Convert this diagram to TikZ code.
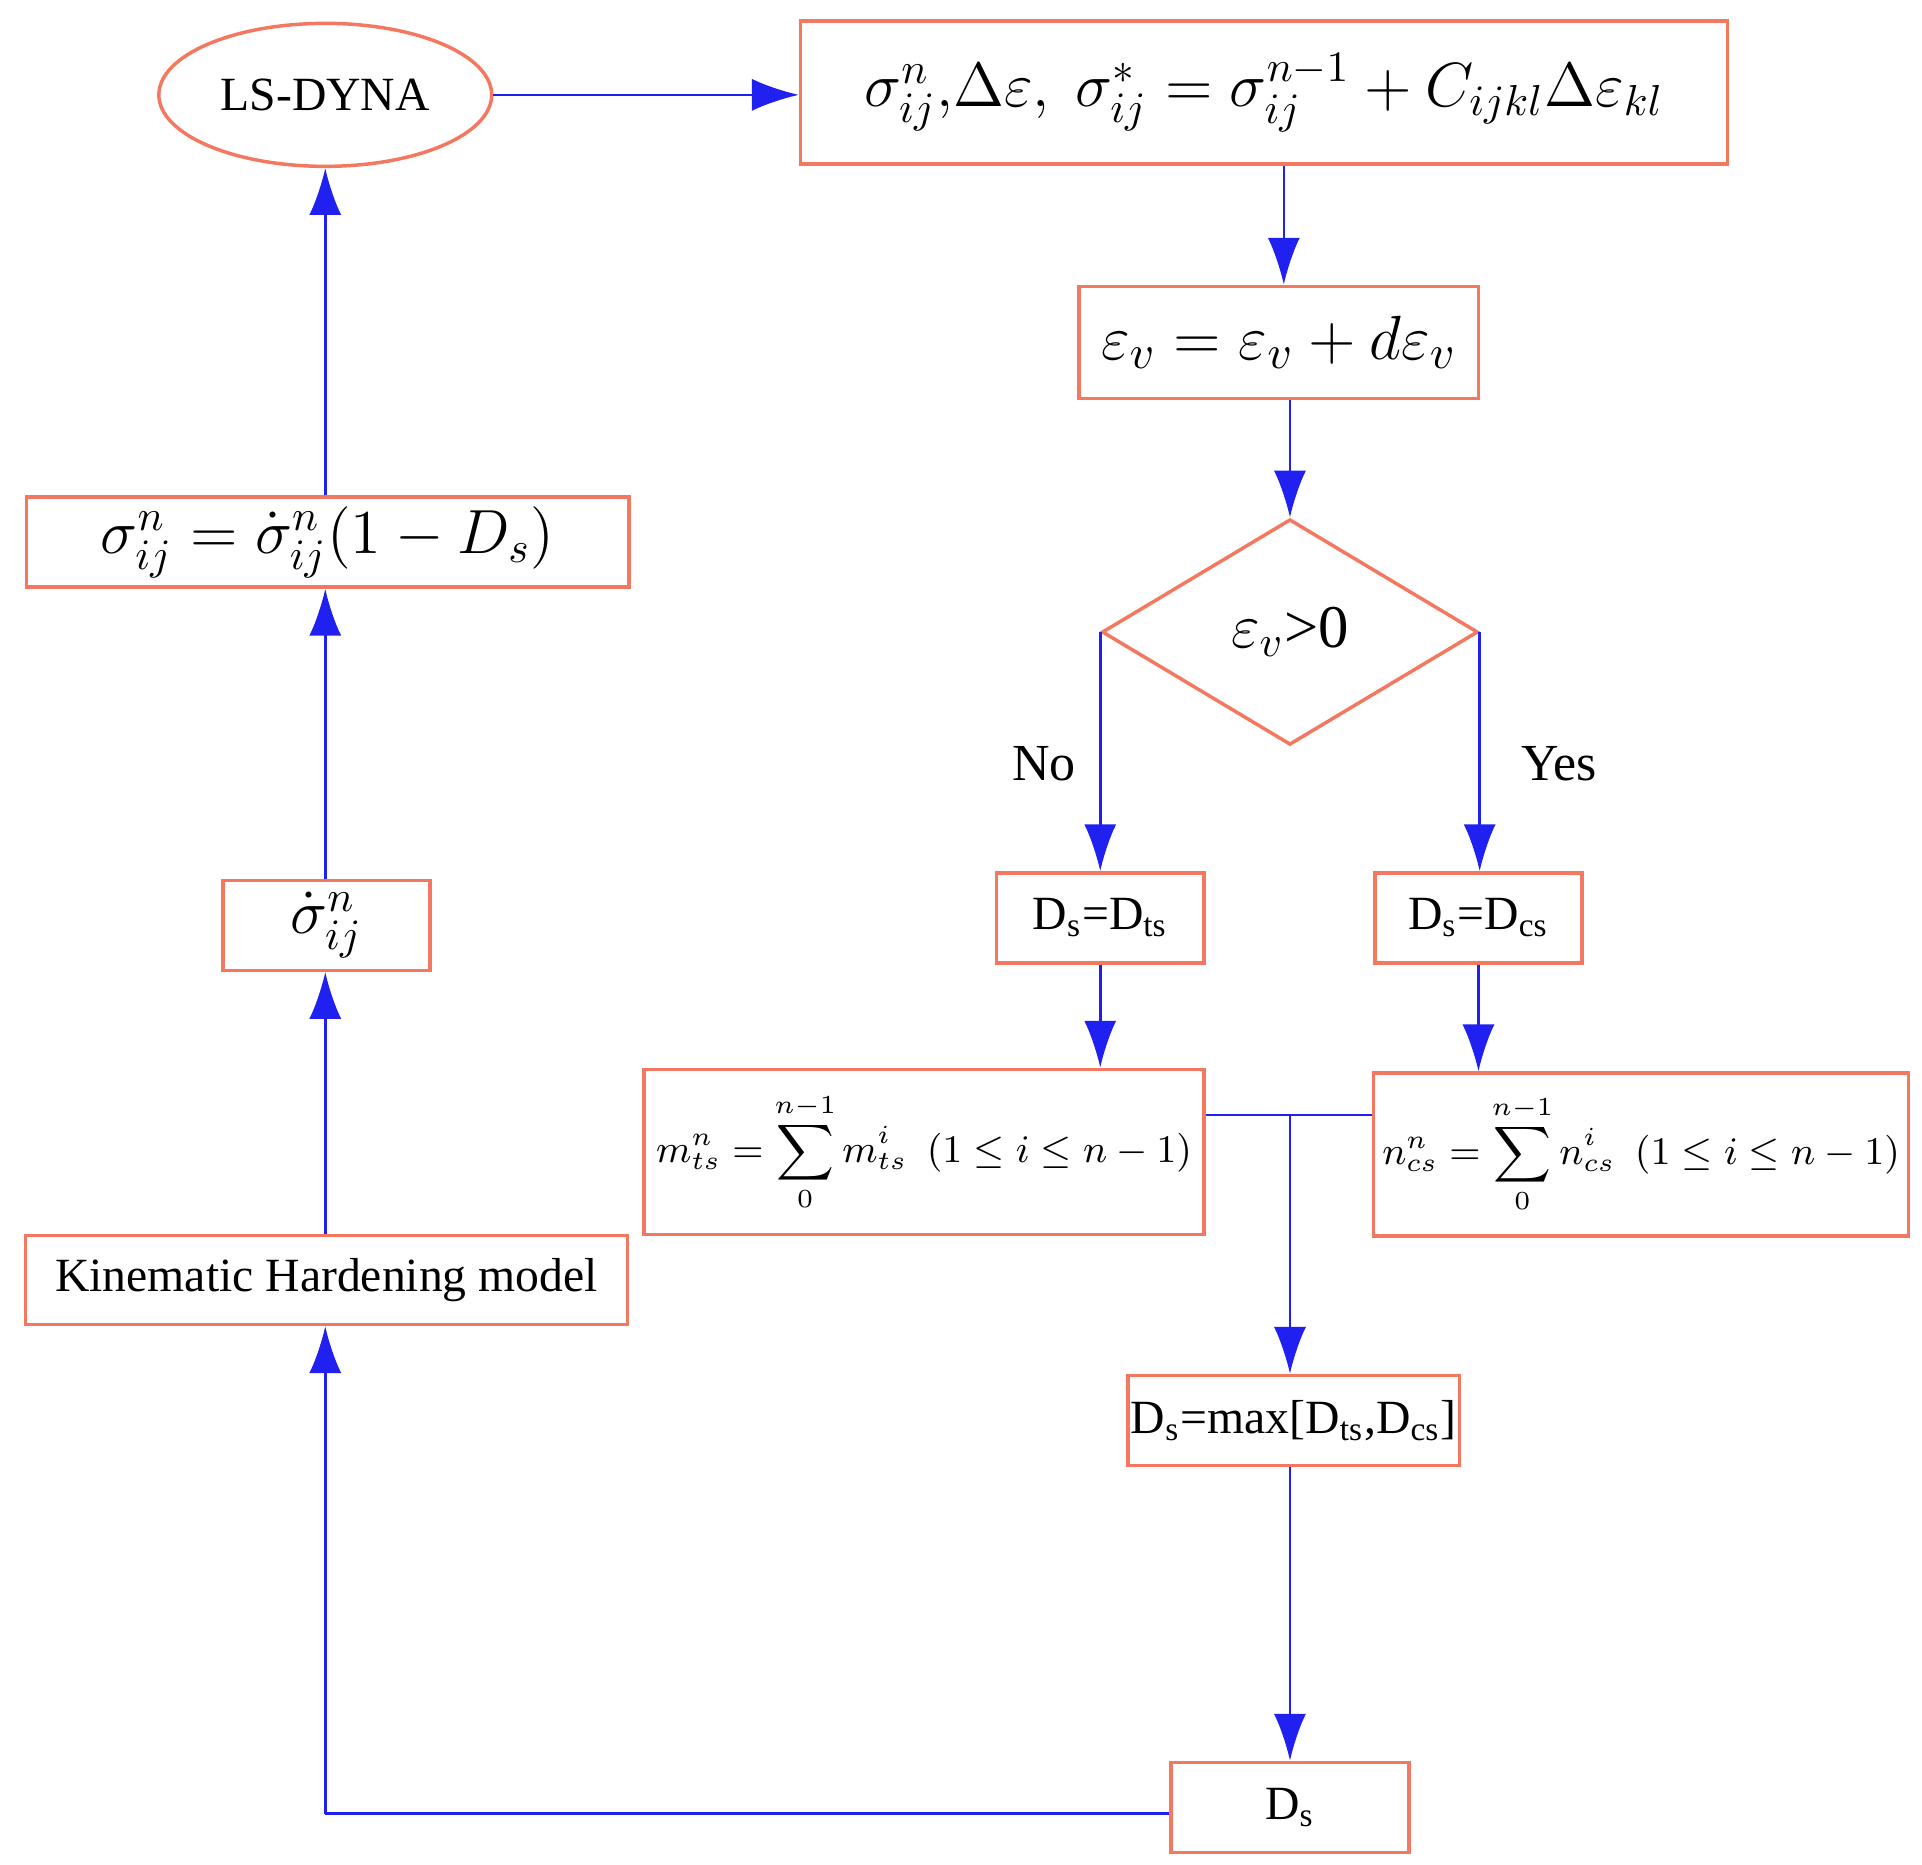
\documentclass[tikz,border=0pt]{standalone}
\usepackage{amsmath}
\usepackage{fontspec}
\setmainfont{Liberation Serif}
\usetikzlibrary{arrows.meta,shapes.geometric}
\definecolor{boxred}{HTML}{F4785F}
\definecolor{flowblue}{HTML}{2020F0}
\begin{document}
\begin{tikzpicture}[x=0.01cm,y=-0.01cm,
  box/.style={draw=boxred,thick,inner sep=0pt,font=\fontsize{11}{13}\selectfont},
  flow/.style={draw=flowblue,semithick,-{Latex[length=0.38cm,width=0.26cm]}},
  line/.style={draw=flowblue,semithick}]
  \useasboundingbox (0,0) rectangle (1560,1513);
  % right column
  \node [box,ellipse,minimum width=2.7cm,minimum height=1.16cm] (dyna) at (264,77) {LS-DYNA};
  \node [box,minimum width=7.52cm,minimum height=1.16cm,font=\fontsize{14}{16}\selectfont] (stress) at (1026,75)
    {$\sigma_{ij}^{n},\!\Delta\varepsilon,\ \sigma_{ij}^{*}=\sigma_{ij}^{n-1}+C_{ijkl}\Delta\varepsilon_{kl}$};
  \node [box,minimum width=3.24cm,minimum height=0.91cm,font=\fontsize{15}{17}\selectfont] (vol) at (1038,278)
    {$\varepsilon_{v}=\varepsilon_{v}+d\varepsilon_{v}$};
  \node [box,diamond,aspect=1.67,minimum width=3.05cm,minimum height=1.83cm,font=\fontsize{14}{16}\selectfont] (test) at (1047,513)
    {$\varepsilon_{v}$>0};
  \node [box,minimum width=1.68cm,minimum height=0.73cm] (dts) at (893,745) {D\textsubscript{s}=D\textsubscript{ts}};
  \node [box,minimum width=1.68cm,minimum height=0.73cm] (dcs) at (1200,745) {D\textsubscript{s}=D\textsubscript{cs}};
  \node [box,minimum width=4.54cm,minimum height=1.34cm,font=\fontsize{9}{11}\selectfont] (msum) at (750,935)
    {$m_{ts}^{n}=\displaystyle\sum_{0}^{n-1}m_{ts}^{i}\ \ (1\le i\le n-1)$};
  \node [box,minimum width=4.34cm,minimum height=1.32cm,font=\fontsize{9}{11}\selectfont] (nsum) at (1332,937)
    {$n_{cs}^{n}=\displaystyle\sum_{0}^{n-1}n_{cs}^{i}\ \ (1\le i\le n-1)$};
  \node [box,minimum width=2.69cm,minimum height=0.73cm] (dmax) at (1050,1153)
    {D\textsubscript{s}=max[D\textsubscript{ts},D\textsubscript{cs}]};
  \node [box,minimum width=1.93cm,minimum height=0.73cm] (ds) at (1047,1467) {D\textsubscript{s}};
  % left column
  \node [box,minimum width=4.89cm,minimum height=0.73cm,font=\fontsize{14}{16}\selectfont] (update) at (266,440)
    {$\sigma_{ij}^{n}=\dot\sigma_{ij}^{n}(1-D_{s})$};
  \node [box,minimum width=1.68cm,minimum height=0.73cm,font=\fontsize{14}{16}\selectfont] (trial) at (265,751)
    {$\dot\sigma_{ij}^{n}$};
  \node [box,minimum width=4.88cm,minimum height=0.72cm] (kin) at (265,1039) {Kinematic Hardening model};
  \coordinate (mid) at (1047,905);
  \coordinate (corner) at (264,1472);
  \draw [flow] (dyna) -- (stress.west|-dyna);
  \draw [flow] (stress.south-|1042,0) -- (vol.north-|1042,0);
  \draw [flow] (vol.south-|test) -- (test.north);
  \draw [flow] (test.west) -- node [left=2pt,pos=0.55,font=\fontsize{12}{14}\selectfont] {No} (test.west|-dts.north);
  \draw [flow] (test.east) -- node [right=6pt,pos=0.55,font=\fontsize{12}{14}\selectfont] {Yes} (test.east|-dcs.north);
  \draw [flow] (dts) -- (dts|-msum.north);
  \draw [flow] (dcs) -- (dcs|-nsum.north);
  \draw [line] (msum.east|-mid) -- (nsum.west|-mid);
  \draw [flow] (mid) -- (mid|-dmax.north);
  \draw [flow] (dmax.south-|mid) -- (ds.north-|mid);
  \draw [line] (ds.west|-corner) -- (corner);
  \draw [flow] (corner) -- (kin.south-|corner);
  \draw [flow] (kin.north-|corner) -- (trial.south-|corner);
  \draw [flow] (trial.north-|corner) -- (update.south-|corner);
  \draw [flow] (update.north-|corner) -- (dyna.south);
\end{tikzpicture}
\end{document}
